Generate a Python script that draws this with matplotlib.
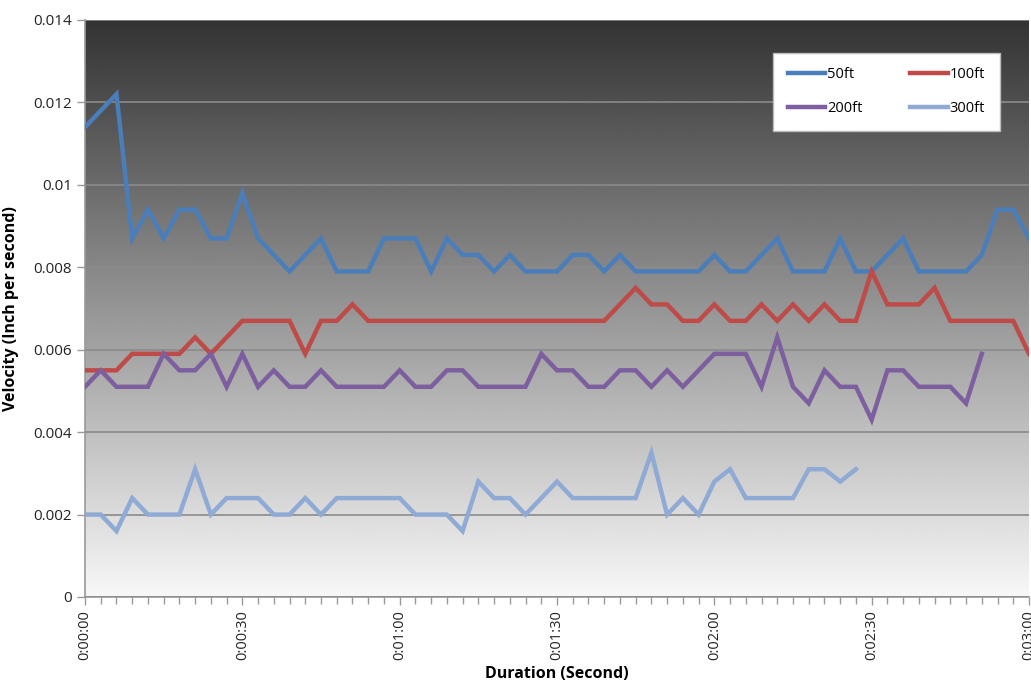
import numpy as np
import matplotlib
matplotlib.use("Agg")
import matplotlib.pyplot as plt
from matplotlib.ticker import MultipleLocator, FuncFormatter

# sample times (seconds), one reading every 3 s
seconds = np.arange(0, 183, 3)

v50 = [0.0114, 0.0118, 0.0122, 0.0087, 0.0094, 0.0087, 0.0094, 0.0094, 0.0087, 0.0087,
       0.0098, 0.0087, 0.0083, 0.0079, 0.0083, 0.0087, 0.0079, 0.0079, 0.0079, 0.0087,
       0.0087, 0.0087, 0.0079, 0.0087, 0.0083, 0.0083, 0.0079, 0.0083, 0.0079, 0.0079,
       0.0079, 0.0083, 0.0083, 0.0079, 0.0083, 0.0079, 0.0079, 0.0079, 0.0079, 0.0079,
       0.0083, 0.0079, 0.0079, 0.0083, 0.0087, 0.0079, 0.0079, 0.0079, 0.0087, 0.0079,
       0.0079, 0.0083, 0.0087, 0.0079, 0.0079, 0.0079, 0.0079, 0.0083, 0.0094, 0.0094,
       0.0087]
v100 = [0.0055, 0.0055, 0.0055, 0.0059, 0.0059, 0.0059, 0.0059, 0.0063, 0.0059, 0.0063,
        0.0067, 0.0067, 0.0067, 0.0067, 0.0059, 0.0067, 0.0067, 0.0071, 0.0067, 0.0067,
        0.0067, 0.0067, 0.0067, 0.0067, 0.0067, 0.0067, 0.0067, 0.0067, 0.0067, 0.0067,
        0.0067, 0.0067, 0.0067, 0.0067, 0.0071, 0.0075, 0.0071, 0.0071, 0.0067, 0.0067,
        0.0071, 0.0067, 0.0067, 0.0071, 0.0067, 0.0071, 0.0067, 0.0071, 0.0067, 0.0067,
        0.0079, 0.0071, 0.0071, 0.0071, 0.0075, 0.0067, 0.0067, 0.0067, 0.0067, 0.0067,
        0.0059]
v200 = [0.0051, 0.0055, 0.0051, 0.0051, 0.0051, 0.0059, 0.0055, 0.0055, 0.0059, 0.0051,
        0.0059, 0.0051, 0.0055, 0.0051, 0.0051, 0.0055, 0.0051, 0.0051, 0.0051, 0.0051,
        0.0055, 0.0051, 0.0051, 0.0055, 0.0055, 0.0051, 0.0051, 0.0051, 0.0051, 0.0059,
        0.0055, 0.0055, 0.0051, 0.0051, 0.0055, 0.0055, 0.0051, 0.0055, 0.0051, 0.0055,
        0.0059, 0.0059, 0.0059, 0.0051, 0.0063, 0.0051, 0.0047, 0.0055, 0.0051, 0.0051,
        0.0043, 0.0055, 0.0055, 0.0051, 0.0051, 0.0051, 0.0047, 0.0059]
v300 = [0.0020, 0.0020, 0.0016, 0.0024, 0.0020, 0.0020, 0.0020, 0.0031, 0.0020, 0.0024,
        0.0024, 0.0024, 0.0020, 0.0020, 0.0024, 0.0020, 0.0024, 0.0024, 0.0024, 0.0024,
        0.0024, 0.0020, 0.0020, 0.0020, 0.0016, 0.0028, 0.0024, 0.0024, 0.0020, 0.0024,
        0.0028, 0.0024, 0.0024, 0.0024, 0.0024, 0.0024, 0.0035, 0.0020, 0.0024, 0.0020,
        0.0028, 0.0031, 0.0024, 0.0024, 0.0024, 0.0024, 0.0031, 0.0031, 0.0028, 0.0031]

labels = ["50ft", "100ft", "200ft", "300ft"]
colors = ["#4A7EBB", "#BE4B48", "#7D5FA0", "#8FAAD4"]

plt.rcParams['font.family'] = ['Open Sans', 'DejaVu Sans']

fig = plt.figure(figsize=(10.31, 6.83), dpi=100)
ax = fig.add_axes([85 / 1031, 86 / 683, 944 / 1031, 577 / 683])

# grey gradient behind the plot area (dark at top, nearly white at bottom)
grad = np.linspace(0.97, 0.2, 256).reshape(-1, 1)
ax.imshow(grad, cmap="gray", vmin=0, vmax=1, extent=[0, 1, 0, 1], origin="lower",
          transform=ax.transAxes, aspect="auto", zorder=0)

lines = []
for vals, lab, col in zip([v50, v100, v200, v300], labels, colors):
    ln, = ax.plot(seconds[:len(vals)], vals, color=col, lw=3.2, label=lab, zorder=3,
                  solid_joinstyle="miter")
    lines.append(ln)

ax.set_xlim(0, 180)
ax.set_ylim(0, 0.014)
ax.yaxis.set_major_locator(MultipleLocator(0.002))
ax.yaxis.set_major_formatter(FuncFormatter(lambda v, p: "0" if v == 0 else ("%.3f" % v).rstrip("0")))
ax.xaxis.set_major_locator(MultipleLocator(30))
ax.xaxis.set_minor_locator(MultipleLocator(3))
ax.xaxis.set_major_formatter(FuncFormatter(
    lambda v, p: "%d:%02d:%02d" % (v // 3600, (v % 3600) // 60, v % 60)))
ax.grid(axis="y", color="#8a8a8a", lw=1.2, zorder=1)
ax.set_axisbelow(False)

for s in ["top", "right"]:
    ax.spines[s].set_visible(False)
ax.spines["left"].set_color("#9a9a9a")
ax.spines["bottom"].set_color("#9a9a9a")
ax.spines["left"].set_linewidth(1.2)
ax.spines["bottom"].set_linewidth(1.2)

ax.tick_params(axis="x", which="major", direction="out", colors="#9a9a9a",
               labelcolor="#222222", labelsize=10.5, labelrotation=90, length=6, width=1)
ax.tick_params(axis="x", which="minor", direction="out", colors="#9a9a9a", length=5, width=1)
ax.tick_params(axis="y", direction="out", colors="#9a9a9a", labelcolor="#222222",
               labelsize=11, length=6, width=1)

ax.set_ylabel("Velocity (Inch per second)", fontsize=11.5, fontweight="bold", labelpad=10)
ax.set_xlabel("Duration (Second)", fontsize=11.5, fontweight="bold", labelpad=4)

# row-wise order: 50ft 100ft / 200ft 300ft
order = [0, 2, 1, 3]
leg = ax.legend([lines[i] for i in order], [labels[i] for i in order],
                loc="upper right", bbox_to_anchor=(0.969, 0.943), borderaxespad=0,
                ncol=2, fontsize=10.5, frameon=True, fancybox=False, handlelength=2.6,
                handletextpad=0.1, columnspacing=3.3, borderpad=1.0, labelspacing=1.3)
leg.get_frame().set_facecolor("white")
leg.get_frame().set_edgecolor("#bbbbbb")
leg.get_frame().set_alpha(1)

fig.savefig("out.png", dpi=100)
